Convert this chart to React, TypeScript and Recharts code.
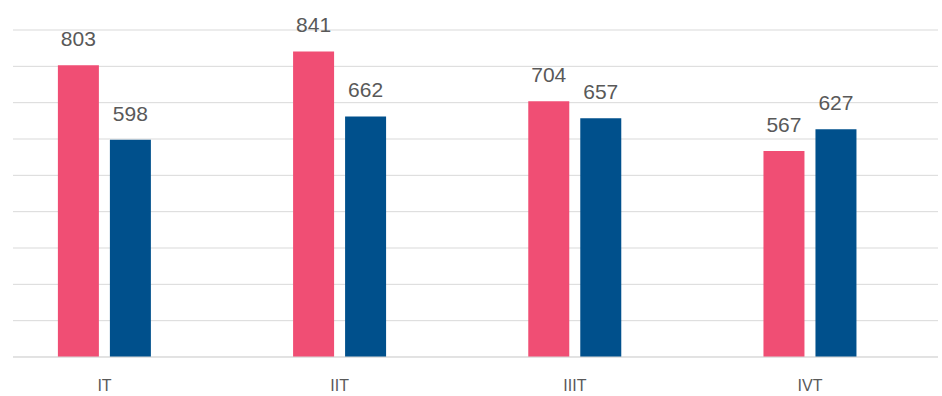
import { BarChart, Bar, XAxis, YAxis, CartesianGrid, LabelList } from 'recharts';

const categories = ['IT', 'IIT', 'IIIT', 'IVT'];
const seriesA = [803, 841, 704, 567];
const seriesB = [598, 662, 657, 627];
const yTicks = [0, 100, 200, 300, 400, 500, 600, 700, 800, 900];

const chartData = categories.map((name, i) => ({
    pos: i,
    name,
    a: seriesA[i],
    b: seriesB[i],
}));

const font = '"Liberation Sans", Arial, Helvetica, sans-serif';

const App = () => {
    return (
        <div style={{ position: 'absolute', left: 0, top: 0 }}>
            <BarChart
                width={942}
                height={396}
                data={chartData}
                barSize={41}
                barGap={11}
                margin={{ top: 30, right: 4, left: 13, bottom: 0 }}
            >
                <CartesianGrid vertical={false} stroke="#d9d9d9" />
                <XAxis
                    dataKey="pos"
                    type="number"
                    domain={[-0.389, 3.544]}
                    allowDataOverflow
                    ticks={[0, 1, 2, 3]}
                    tickFormatter={(v: number) => categories[v]}
                    height={39}
                    tickLine={false}
                    tickSize={0}
                    tickMargin={23}
                    axisLine={{ stroke: '#d9d9d9' }}
                    tick={{ fill: '#595959', fontSize: 16, fontFamily: font }}
                />
                <YAxis hide domain={[0, 900]} ticks={yTicks} />
                <Bar dataKey="a" fill="#f04e74" isAnimationActive={false}>
                    <LabelList dataKey="a" position="top" offset={19} fill="#595959" fontSize={21} fontFamily={font} />
                </Bar>
                <Bar dataKey="b" fill="#00508c" isAnimationActive={false}>
                    <LabelList dataKey="b" position="top" offset={19} fill="#595959" fontSize={21} fontFamily={font} />
                </Bar>
            </BarChart>
        </div>
    );
};

export default App;
